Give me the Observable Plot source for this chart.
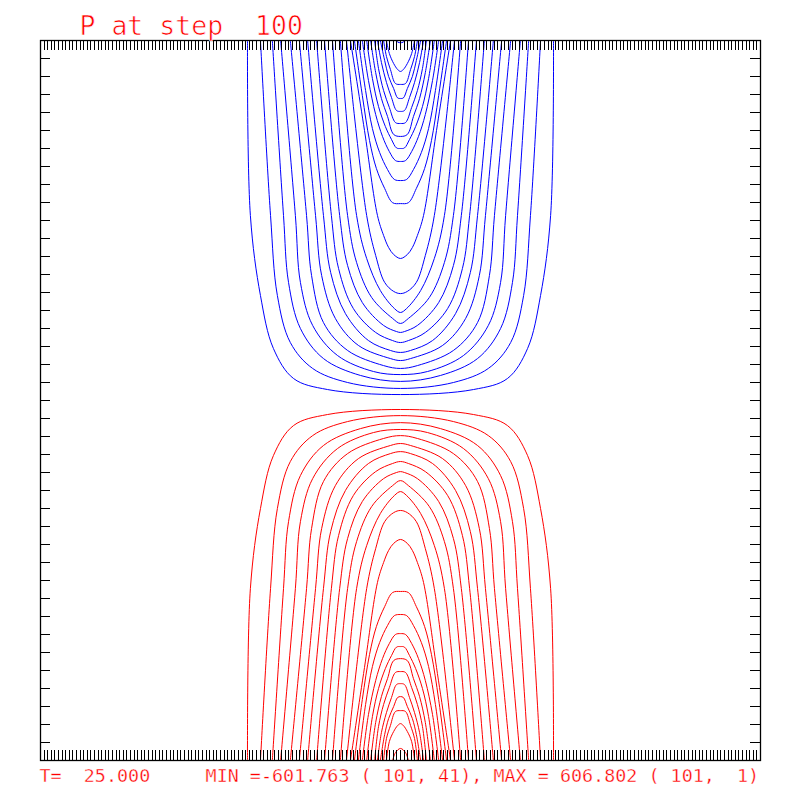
<!DOCTYPE html>
<html>
<head>
<meta charset="utf-8">
<script src="https://cdn.jsdelivr.net/npm/d3@7"></script>
<script src="https://cdn.jsdelivr.net/npm/@observablehq/plot@0.6"></script>
<style>
html, body { margin: 0; padding: 0; background: #ffffff; }
svg text { white-space: pre; }
</style>
</head>
<body>
<div id="chart"></div>
<script>
// ---- texts ----
const titleText = "P at step  100";
const footerText = "T=  25.000     MIN =-601.763 ( 101, 41), MAX = 606.802 ( 101,  1)";

// ---- grid (node indices) ----
const gridX = [1, 201];
const gridY = [1, 41];

// ---- contour levels ----
const blueLevels = [-25, -50, -75, -100, -125, -150, -175, -200, -225, -250, -275, -300,
                    -325, -350, -375, -400, -425, -450, -475, -500, -525, -550, -575, -600];
const redLevels = [25, 50, 75, 100, 125, 150, 175, 200, 225, 250, 275, 300,
                   325, 350, 375, 400, 425, 450, 475, 500, 525, 550, 575, 600];

// ---- contour paths: [i, j] grid-node coordinates ----
const bluePaths = [
  [[58.5,41],[59.3,31.28],[62.1,26.83],[65.7,23.89],[71.3,22.22],[80.7,21.61],[101,21.33],[121.3,21.61],[130.7,22.22],[136.3,23.89],[139.9,26.83],[142.7,31.28],[143.5,41]],
  [[62.1,41],[64.9,31.28],[66.8,26.83],[70.4,24.22],[76.6,22.78],[86.3,22.0],[101,21.67],[115.7,22.0],[125.4,22.78],[131.6,24.22],[135.2,26.83],[137.1,31.28],[139.9,41]],
  [[65.4,41],[68.5,31.28],[69.9,27.56],[73.2,25.0],[79.6,23.33],[89.9,22.39],[101,22.06],[112.1,22.39],[122.4,23.33],[128.8,25.0],[132.1,27.56],[133.5,31.28],[136.6,41]],
  [[67.7,41],[71.8,31.28],[73.2,27.56],[76.6,25.17],[83.5,23.5],[93.5,22.61],[101,22.44],[108.5,22.61],[118.5,23.5],[125.4,25.17],[128.8,27.56],[130.2,31.28],[134.3,41]],
  [[70.4,41],[74.9,31.28],[76.3,27.94],[79.6,25.33],[86.3,23.78],[96.3,22.94],[101,22.78],[105.7,22.94],[115.7,23.78],[122.4,25.33],[125.7,27.94],[127.1,31.28],[131.6,41]],
  [[72.9,41],[77.4,31.28],[79.1,27.94],[82.9,25.56],[89.3,24.06],[98.2,23.33],[101,23.22],[103.8,23.33],[112.7,24.06],[119.1,25.56],[122.9,27.94],[124.6,31.28],[129.1,41]],
  [[75.2,41],[79.6,31.28],[81.6,28.11],[85.7,25.83],[92.1,24.33],[98.2,23.78],[101,23.67],[103.8,23.78],[109.9,24.33],[116.3,25.83],[120.4,28.11],[122.4,31.28],[126.8,41]],
  [[77.7,41],[81.8,31.28],[83.8,28.33],[87.9,26.11],[94.1,24.78],[98.8,24.33],[101,24.22],[103.2,24.33],[107.9,24.78],[114.1,26.11],[118.2,28.33],[120.2,31.28],[124.3,41]],
  [[79.9,41],[84.1,31.28],[86.3,28.5],[90.4,26.44],[96.3,25.17],[99.9,24.83],[101,24.78],[102.1,24.83],[105.7,25.17],[111.6,26.44],[115.7,28.5],[117.9,31.28],[122.1,41]],
  [[82.1,41],[86.3,31.28],[88.8,28.67],[93.0,26.72],[98.8,25.56],[101,25.28],[103.2,25.56],[109.0,26.72],[113.2,28.67],[115.7,31.28],[119.9,41]],
  [[84.3,41],[88.8,31.28],[91.6,28.89],[95.4,27.11],[99.3,26.11],[101,25.89],[102.7,26.11],[106.6,27.11],[110.4,28.89],[113.2,31.28],[117.7,41]],
  [[86.0,41],[91.6,31.28],[94.1,29.06],[96.6,27.56],[99.1,27.06],[101,26.94],[102.9,27.06],[105.4,27.56],[107.9,29.06],[110.4,31.28],[116.0,41]],
  [[87.1,41],[91.0,36.0],[94.6,31.28],[96.3,30.17],[97.7,29.5],[99.1,29.11],[101,28.89],[102.9,29.11],[104.3,29.5],[105.7,30.17],[107.4,31.28],[111.0,36.0],[114.9,41]],
  [[88.2,41],[90.4,37.94],[92.4,35.44],[94.3,33.89],[96.6,32.78],[98.8,31.99],[101,31.94],[103.2,31.99],[105.4,32.78],[107.7,33.89],[109.6,35.44],[111.6,37.94],[113.8,41]],
  [[89.3,41],[91.3,38.22],[93.2,36.11],[95.2,34.78],[97.4,33.83],[99.3,33.28],[101,33.22],[102.7,33.28],[104.6,33.83],[106.8,34.78],[108.8,36.11],[110.7,38.22],[112.7,41]],
  [[90.4,41],[92.1,38.78],[94.1,36.89],[96.0,35.67],[97.9,34.83],[99.6,34.33],[101,34.28],[102.4,34.33],[104.1,34.83],[106.0,35.67],[107.9,36.89],[109.9,38.78],[111.6,41]],
  [[91.6,41],[93.2,38.89],[94.9,37.33],[96.8,36.22],[98.5,35.5],[99.9,35.03],[101,35.0],[102.1,35.03],[103.5,35.5],[105.2,36.22],[107.1,37.33],[108.8,38.89],[110.4,41]],
  [[92.7,41],[94.1,39.22],[95.7,37.78],[97.4,36.78],[99.1,35.78],[101,35.67],[102.9,35.78],[104.6,36.78],[106.3,37.78],[107.9,39.22],[109.3,41]],
  [[93.8,41],[94.9,39.44],[96.3,38.22],[97.9,37.28],[99.6,36.44],[101,36.39],[102.4,36.44],[104.1,37.28],[105.7,38.22],[107.1,39.44],[108.2,41]],
  [[94.6,41],[95.7,39.78],[97.1,38.67],[98.5,37.83],[99.9,37.11],[101,37.06],[102.1,37.11],[103.5,37.83],[104.9,38.67],[106.3,39.78],[107.4,41]],
  [[95.4,41],[96.6,39.89],[97.7,39.0],[99.1,38.33],[100.2,37.81],[101,37.78],[101.8,37.81],[102.9,38.33],[104.3,39.0],[105.4,39.89],[106.6,41]],
  [[96.3,41],[97.1,40.11],[98.2,39.39],[99.6,38.61],[101,38.56],[102.4,38.61],[103.8,39.39],[104.9,40.11],[105.7,41]],
  [[97.1,41],[97.9,40.28],[99.1,39.72],[100.2,39.39],[101,39.28],[101.8,39.39],[102.9,39.72],[104.1,40.28],[104.9,41]],
  [[99.8,41],[100.3,40.9],[101,40.88],[101.7,40.9],[102.2,41]]
];

const redPaths = [
  [[58.5,1],[59.3,10.55],[62.1,15.0],[65.7,17.94],[71.3,19.61],[80.7,20.22],[101,20.5],[121.3,20.22],[130.7,19.61],[136.3,17.94],[139.9,15.0],[142.7,10.55],[143.5,1]],
  [[62.1,1],[64.9,10.55],[66.8,15.0],[70.4,17.61],[76.6,19.05],[86.3,19.83],[101,20.16],[115.7,19.83],[125.4,19.05],[131.6,17.61],[135.2,15.0],[137.1,10.55],[139.9,1]],
  [[65.4,1],[68.5,10.55],[69.9,14.27],[73.2,16.83],[79.6,18.5],[89.9,19.44],[101,19.77],[112.1,19.44],[122.4,18.5],[128.8,16.83],[132.1,14.27],[133.5,10.55],[136.6,1]],
  [[67.7,1],[71.8,10.55],[73.2,14.27],[76.6,16.66],[83.5,18.33],[93.5,19.22],[101,19.39],[108.5,19.22],[118.5,18.33],[125.4,16.66],[128.8,14.27],[130.2,10.55],[134.3,1]],
  [[70.4,1],[74.9,10.55],[76.3,13.89],[79.6,16.5],[86.3,18.05],[96.3,18.89],[101,19.05],[105.7,18.89],[115.7,18.05],[122.4,16.5],[125.7,13.89],[127.1,10.55],[131.6,1]],
  [[72.9,1],[77.4,10.55],[79.1,13.89],[82.9,16.27],[89.3,17.77],[98.2,18.5],[101,18.61],[103.8,18.5],[112.7,17.77],[119.1,16.27],[122.9,13.89],[124.6,10.55],[129.1,1]],
  [[75.2,1],[79.6,10.55],[81.6,13.72],[85.7,16.0],[92.1,17.5],[98.2,18.05],[101,18.16],[103.8,18.05],[109.9,17.5],[116.3,16.0],[120.4,13.72],[122.4,10.55],[126.8,1]],
  [[77.7,1],[81.8,10.55],[83.8,13.5],[87.9,15.72],[94.1,17.05],[98.8,17.5],[101,17.61],[103.2,17.5],[107.9,17.05],[114.1,15.72],[118.2,13.5],[120.2,10.55],[124.3,1]],
  [[79.9,1],[84.1,10.55],[86.3,13.33],[90.4,15.39],[96.3,16.66],[99.9,17.0],[101,17.05],[102.1,17.0],[105.7,16.66],[111.6,15.39],[115.7,13.33],[117.9,10.55],[122.1,1]],
  [[82.1,1],[86.3,10.55],[88.8,13.16],[93.0,15.11],[98.8,16.27],[101,16.55],[103.2,16.27],[109.0,15.11],[113.2,13.16],[115.7,10.55],[119.9,1]],
  [[84.3,1],[88.8,10.55],[91.6,12.94],[95.4,14.72],[99.3,15.72],[101,15.94],[102.7,15.72],[106.6,14.72],[110.4,12.94],[113.2,10.55],[117.7,1]],
  [[86.0,1],[91.6,10.55],[94.1,12.77],[96.6,14.27],[99.1,14.77],[101,14.89],[102.9,14.77],[105.4,14.27],[107.9,12.77],[110.4,10.55],[116.0,1]],
  [[87.1,1],[91.0,6.17],[94.6,10.89],[96.3,12.0],[97.7,12.67],[99.1,13.06],[101,13.28],[102.9,13.06],[104.3,12.67],[105.7,12.0],[107.4,10.89],[111.0,6.17],[114.9,1]],
  [[88.2,1],[90.4,4.39],[92.4,6.89],[94.3,8.44],[96.6,9.55],[98.8,10.33],[101,10.39],[103.2,10.33],[105.4,9.55],[107.7,8.44],[109.6,6.89],[111.6,4.39],[113.8,1]],
  [[89.3,1],[91.3,4.11],[93.2,6.22],[95.2,7.55],[97.4,8.5],[99.3,9.05],[101,9.11],[102.7,9.05],[104.6,8.5],[106.8,7.55],[108.8,6.22],[110.7,4.11],[112.7,1]],
  [[90.4,1],[92.1,3.55],[94.1,5.44],[96.0,6.66],[97.9,7.5],[99.6,8.0],[101,8.05],[102.4,8.0],[104.1,7.5],[106.0,6.66],[107.9,5.44],[109.9,3.55],[111.6,1]],
  [[91.6,1],[93.2,3.44],[94.9,5.0],[96.8,6.11],[98.5,6.83],[99.9,7.3],[101,7.33],[102.1,7.3],[103.5,6.83],[105.2,6.11],[107.1,5.0],[108.8,3.44],[110.4,1]],
  [[92.7,1],[94.1,3.11],[95.7,4.55],[97.4,5.55],[99.1,6.55],[101,6.66],[102.9,6.55],[104.6,5.55],[106.3,4.55],[107.9,3.11],[109.3,1]],
  [[93.8,1],[94.9,2.89],[96.3,4.11],[97.9,5.05],[99.6,5.89],[101,5.94],[102.4,5.89],[104.1,5.05],[105.7,4.11],[107.1,2.89],[108.2,1]],
  [[94.6,1],[95.7,2.55],[97.1,3.66],[98.5,4.5],[99.9,5.22],[101,5.27],[102.1,5.22],[103.5,4.5],[104.9,3.66],[106.3,2.55],[107.4,1]],
  [[95.4,1],[96.6,2.44],[97.7,3.33],[99.1,4.0],[100.2,4.5],[101,4.55],[101.8,4.5],[102.9,4.0],[104.3,3.33],[105.4,2.44],[106.6,1]],
  [[96.3,1],[97.1,2.22],[98.2,2.94],[99.6,3.72],[101,3.77],[102.4,3.72],[103.8,2.94],[104.9,2.22],[105.7,1]],
  [[97.1,1],[97.9,2.05],[99.1,2.61],[100.2,2.94],[101,3.05],[101.8,2.94],[102.9,2.61],[104.1,2.05],[104.9,1]],
  [[98.8,1],[99.6,1.44],[101,1.67],[102.4,1.44],[103.2,1]]
];

// ---- tables for the library ----
function toRows(paths, levels) {
  const rows = [];
  paths.forEach((pts, k) => pts.forEach(([i, j]) => rows.push({level: levels[k], i, j})));
  return rows;
}
const blueRows = toRows(bluePaths, blueLevels);
const redRows = toRows(redPaths, redLevels);
const xTicks = d3.range(gridX[0], gridX[1] + 1);
const yTicks = d3.range(gridY[0], gridY[1] + 1);

const chart = Plot.plot({
  width: 800,
  height: 800,
  marginTop: 40,
  marginRight: 40,
  marginBottom: 40,
  marginLeft: 40,
  style: {background: "#ffffff", overflow: "visible"},
  x: {domain: gridX, axis: null},
  y: {domain: gridY, axis: null},
  marks: [
    Plot.line(blueRows, {x: "i", y: "j", z: "level", stroke: "#0000ff", strokeWidth: 1, curve: "catmull-rom"}),
    Plot.line(redRows, {x: "i", y: "j", z: "level", stroke: "#ff0000", strokeWidth: 1, curve: "catmull-rom"}),
    Plot.ruleX(xTicks, {x: d => d, insetBottom: 710, stroke: "#000000", strokeWidth: 1, shapeRendering: "crispEdges"}),
    Plot.ruleX(xTicks, {x: d => d, insetTop: 710, stroke: "#000000", strokeWidth: 1, shapeRendering: "crispEdges"}),
    Plot.ruleY(yTicks, {y: d => d, insetRight: 710, stroke: "#000000", strokeWidth: 1, shapeRendering: "crispEdges"}),
    Plot.ruleY(yTicks, {y: d => d, insetLeft: 710, stroke: "#000000", strokeWidth: 1, shapeRendering: "crispEdges"}),
    Plot.frame({stroke: "#000000", strokeWidth: 1.3}),
    Plot.text([titleText], {
      text: d => d, frameAnchor: "top-left", textAnchor: "start", lineAnchor: "bottom",
      dx: 39, dy: -6, fontSize: 26.5, fontFamily: "DejaVu Sans Mono",
      fill: "#ff0000", stroke: "#ffffff", strokeWidth: 0.7, paintOrder: "fill"
    }),
    Plot.text([footerText], {
      text: d => d, frameAnchor: "bottom-left", textAnchor: "start", lineAnchor: "bottom",
      dx: -1, dy: 21.7, fontSize: 18.4, fontFamily: "DejaVu Sans Mono",
      fill: "#ff0000", stroke: "#ffffff", strokeWidth: 0.35, paintOrder: "fill"
    })
  ]
});
document.getElementById("chart").appendChild(chart);
</script>
</body>
</html>
